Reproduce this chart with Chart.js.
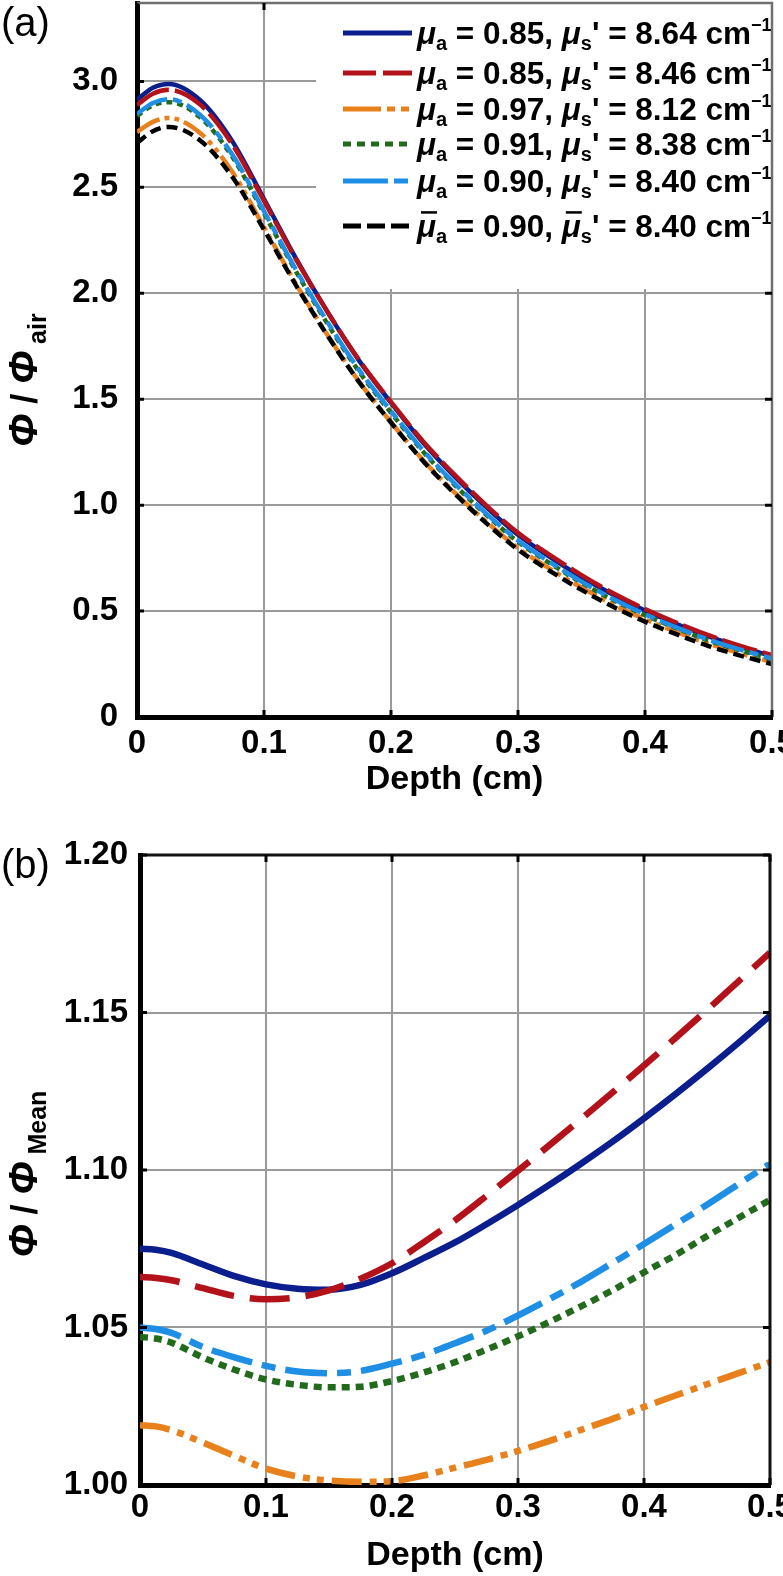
<!DOCTYPE html>
<html>
<head>
<meta charset="utf-8">
<script src="https://cdn.jsdelivr.net/npm/chart.js@4.4.1/dist/chart.umd.min.js"></script>
<style>
html, body { margin: 0; padding: 0; background: #fff; overflow: hidden; width: 783px; height: 1576px; }
canvas { display: block; }
</style>
</head>
<body>
<canvas id="chartA" width="783" height="800"></canvas>
<canvas id="chartB" width="783" height="776"></canvas>
<script>
// Depth (cm)
const depth = [0, 0.0125, 0.025, 0.05, 0.075, 0.1, 0.125, 0.15, 0.175, 0.2, 0.225, 0.25,
               0.275, 0.3, 0.325, 0.35, 0.375, 0.4, 0.425, 0.45, 0.475, 0.5];

// (a) fluence / fluence in air
const phiBlue   = [2.913, 2.970, 2.988, 2.910, 2.718, 2.445, 2.166, 1.912, 1.681, 1.483, 1.297, 1.136, 0.991, 0.860, 0.756, 0.661, 0.577, 0.503, 0.439, 0.380, 0.331, 0.287];
const phiRed    = [2.889, 2.942, 2.960, 2.889, 2.703, 2.436, 2.162, 1.912, 1.684, 1.487, 1.303, 1.144, 0.999, 0.869, 0.765, 0.670, 0.584, 0.510, 0.445, 0.386, 0.336, 0.292];
const phiOrange = [2.761, 2.809, 2.827, 2.755, 2.573, 2.312, 2.046, 1.803, 1.582, 1.391, 1.214, 1.060, 0.922, 0.798, 0.700, 0.611, 0.531, 0.461, 0.401, 0.346, 0.300, 0.260];
const phiGreen  = [2.837, 2.887, 2.902, 2.829, 2.644, 2.377, 2.105, 1.856, 1.629, 1.436, 1.254, 1.096, 0.954, 0.827, 0.726, 0.634, 0.552, 0.481, 0.418, 0.361, 0.315, 0.273];
const phiLBlue  = [2.846, 2.898, 2.916, 2.840, 2.655, 2.387, 2.113, 1.864, 1.637, 1.444, 1.260, 1.102, 0.960, 0.833, 0.731, 0.639, 0.557, 0.485, 0.422, 0.365, 0.318, 0.276];
const phiMean   = [2.710, 2.765, 2.785, 2.720, 2.550, 2.300, 2.040, 1.800, 1.580, 1.390, 1.210, 1.055, 0.915, 0.790, 0.690, 0.600, 0.520, 0.450, 0.390, 0.335, 0.290, 0.250];

// (b) fluence / mean fluence
const ratBlue   = [1.075, 1.0747, 1.0737, 1.070, 1.0663, 1.0637, 1.0623, 1.062, 1.0635, 1.0672, 1.072, 1.077, 1.0828, 1.0889, 1.0953, 1.102, 1.109, 1.1164, 1.1241, 1.1321, 1.1404, 1.149];
const ratRed    = [1.066, 1.0657, 1.065, 1.0625, 1.060, 1.059, 1.0596, 1.0618, 1.0655, 1.0704, 1.077, 1.084, 1.0918, 1.0998, 1.1079, 1.1162, 1.1246, 1.1332, 1.1419, 1.1508, 1.1599, 1.169];
const ratOrange = [1.019, 1.0186, 1.0174, 1.0135, 1.0092, 1.0052, 1.0027, 1.0014, 1.001, 1.0012, 1.003, 1.0055, 1.008, 1.0108, 1.014, 1.0175, 1.021, 1.0248, 1.0284, 1.032, 1.0355, 1.039];
const ratGreen  = [1.047, 1.0465, 1.0452, 1.0405, 1.0366, 1.0335, 1.0318, 1.031, 1.0312, 1.033, 1.0357, 1.039, 1.043, 1.0472, 1.0518, 1.0567, 1.0618, 1.0675, 1.073, 1.079, 1.0848, 1.0905];
const ratLBlue  = [1.050, 1.0495, 1.0483, 1.0438, 1.0405, 1.0378, 1.036, 1.0355, 1.0362, 1.0385, 1.0413, 1.045, 1.049, 1.0538, 1.059, 1.0645, 1.0705, 1.0765, 1.0827, 1.089, 1.0955, 1.102];

// legend values
const muA = ['0.85', '0.85', '0.97', '0.91', '0.90', '0.90'];
const muS = ['8.64', '8.46', '8.12', '8.38', '8.40', '8.40'];

// ticks
const xTickVals = [0, 0.1, 0.2, 0.3, 0.4, 0.5];
const xTickLabels = ['0', '0.1', '0.2', '0.3', '0.4', '0.5'];
const yTickValsA = [0, 0.5, 1.0, 1.5, 2.0, 2.5, 3.0];
const yTickLabelsA = ['0', '0.5', '1.0', '1.5', '2.0', '2.5', '3.0'];
const yTickValsB = [1.00, 1.05, 1.10, 1.15, 1.20];
const yTickLabelsB = ['1.00', '1.05', '1.10', '1.15', '1.20'];

const FONT = "'Liberation Sans', Arial, sans-serif";
const colors = ['#0b1e8e', '#b3121a', '#e8801c', '#226b1c', '#1e8fe4', '#000000'];
const dashA = [[], [36, 6], [26, 5, 5, 5, 5, 5], [6, 5], [34, 6, 9, 6], [11, 6]];
const dashB = [[], [40, 16], [30, 8, 7, 7, 7, 8], [8, 6], [42, 10, 14, 10]];
const dashLegend = [[], [33, 7], [38, 6, 8, 6, 8, 6], [8, 6], [45, 6, 14, 6], [18, 6]];

function pts(arr) {
    return depth.map((d, i) => ({ x: d, y: arr[i] }));
}

function makeSets(series, dashes, width) {
    return series.map((s, i) => ({
        data: pts(s),
        borderColor: colors[i],
        borderWidth: width,
        borderDash: dashes[i],
        order: series.length - i
    }));
}

// text with sub / superscripts; p = [text, size, style, dy, overbar]
function rich(ctx, x, y, parts) {
    for (const p of parts) {
        ctx.font = p[2] + ' ' + p[1] + 'px ' + FONT;
        ctx.fillText(p[0], x, y + p[3]);
        const w = ctx.measureText(p[0]).width;
        if (p[4]) {
            ctx.fillRect(x + 4, y - p[1] * 0.82, w - 3, 2.5);
        }
        x += w;
    }
    return x;
}
function richWidth(ctx, parts) {
    let w = 0;
    for (const p of parts) {
        ctx.font = p[2] + ' ' + p[1] + 'px ' + FONT;
        w += ctx.measureText(p[0]).width;
    }
    return w;
}

function yTitle(ctx, x, yc, sub) {
    const parts = [['Φ', 40, 'italic bold', 0], [' / ', 36, 'bold', 0], ['Φ', 40, 'italic bold', 0], [' ' + sub, 25, 'bold', 9]];
    ctx.save();
    ctx.translate(x, yc);
    ctx.rotate(-Math.PI / 2);
    ctx.fillStyle = '#000';
    ctx.textBaseline = 'alphabetic';
    rich(ctx, -richWidth(ctx, parts) / 2, 0, parts);
    ctx.restore();
}

function frame(chart, o) {
    const { ctx, chartArea: a, scales: { x, y } } = chart;
    ctx.save();
    ctx.strokeStyle = o.frameColor;
    ctx.lineWidth = o.frameWidth;
    ctx.beginPath();
    ctx.moveTo(a.left, a.top);
    ctx.lineTo(a.right, a.top);
    ctx.lineTo(a.right, a.bottom);
    ctx.stroke();
    ctx.strokeStyle = '#000';
    ctx.lineWidth = 3;
    ctx.beginPath();
    xTickVals.forEach(v => {
        const px = x.getPixelForValue(v);
        ctx.moveTo(px, a.bottom); ctx.lineTo(px, a.bottom - 7);
        if (px < o.topTickLimit) { ctx.moveTo(px, a.top); ctx.lineTo(px, a.top + 7); }
    });
    o.yTicks.forEach(v => {
        const py = y.getPixelForValue(v);
        ctx.moveTo(a.left, py); ctx.lineTo(a.left + 7, py);
        if (py > o.rightTickLimit) { ctx.moveTo(a.right, py); ctx.lineTo(a.right - 7, py); }
    });
    ctx.stroke();
    ctx.restore();
}

function options(p) {
    return {
        responsive: false,
        animation: false,
        devicePixelRatio: 1,
        layout: { padding: { top: p.top, right: p.right, left: 0, bottom: 0 } },
        plugins: { legend: { display: false }, tooltip: { enabled: false } },
        elements: {
            point: { radius: 0 },
            line: { cubicInterpolationMode: 'monotone', borderCapStyle: 'butt', fill: false }
        },
        scales: {
            x: {
                type: 'linear', min: 0, max: 0.5,
                afterBuildTicks: s => { s.ticks = xTickVals.map(v => ({ value: v })); },
                afterFit: s => { s.height = p.xHeight; s.paddingLeft = 0; s.paddingRight = 0; },
                ticks: {
                    callback: (v, i) => xTickLabels[i],
                    color: '#000', padding: p.xPad, maxRotation: 0, autoSkip: false,
                    font: { family: FONT, size: 33, weight: 'bold' }
                },
                grid: { color: '#9a9a9a', lineWidth: 2, drawTicks: false },
                border: { color: '#000', width: 5 },
                title: {
                    display: true, text: 'Depth (cm)', color: '#000',
                    font: { family: FONT, size: 34, weight: 'bold' },
                    padding: { top: p.titlePad, bottom: 0 }
                }
            },
            y: {
                type: 'linear', min: p.yMin, max: p.yMax,
                afterBuildTicks: s => { s.ticks = p.yTicks.map(v => ({ value: v })); },
                afterFit: s => { s.width = p.yWidth; s.paddingTop = 0; s.paddingBottom = 0; },
                ticks: {
                    callback: (v, i) => p.yLabels[i],
                    color: '#000', padding: p.yPad,
                    font: { family: FONT, size: 33, weight: 'bold' }
                },
                grid: { color: '#9a9a9a', lineWidth: 2, drawTicks: false },
                border: { color: '#000', width: 5 }
            }
        }
    };
}

// Panel (a)
const legendRows = [33, 73, 109, 144, 181, 226];
const panelA = {
    id: 'panelA',
    beforeDatasetsDraw(chart) {
        const ctx = chart.ctx;
        const a = chart.chartArea;
        ctx.save();
        ctx.fillStyle = '#fff';
        ctx.fillRect(316, a.top, a.right - 316, 289 - a.top);
        legendRows.forEach((ry, i) => {
            ctx.strokeStyle = colors[i];
            ctx.lineWidth = 5;
            ctx.lineCap = 'butt';
            ctx.setLineDash(dashLegend[i]);
            ctx.beginPath();
            ctx.moveTo(343, ry); ctx.lineTo(412, ry);
            ctx.stroke();
            ctx.setLineDash([]);
            const bar = i === 5;
            ctx.fillStyle = '#000';
            ctx.textBaseline = 'alphabetic';
            rich(ctx, 417, ry + 11, [
                ['μ', 31.5, 'italic bold', 0, bar], ['a', 20, 'bold', 6],
                [' = ' + muA[i] + ', ', 31.5, 'bold', 0],
                ['μ', 31.5, 'italic bold', 0, bar], ['s', 20, 'bold', 6],
                ["' = " + muS[i] + ' cm', 31.5, 'bold', 0], ['\u22121', 18, 'bold', -13]
            ]);
        });
        ctx.restore();
    },
    afterDraw(chart) {
        const ctx = chart.ctx;
        frame(chart, { frameColor: '#707070', frameWidth: 2.5, yTicks: yTickValsA, topTickLimit: 316, rightTickLimit: 289 });
        yTitle(ctx, 37, 380, 'air');
        ctx.save();
        ctx.fillStyle = '#000';
        ctx.font = '40px ' + FONT;
        ctx.textBaseline = 'alphabetic';
        ctx.fillText('(a)', 1, 36);
        ctx.restore();
    }
};

new Chart(document.getElementById('chartA'), {
    type: 'line',
    data: { datasets: makeSets([phiBlue, phiRed, phiOrange, phiGreen, phiLBlue, phiMean], dashA, 4.5) },
    options: options({
        top: 3, right: 11, xHeight: 83, yWidth: 137, xPad: 7, yPad: 19, titlePad: 0,
        yMin: 0, yMax: 3.37, yTicks: yTickValsA, yLabels: yTickLabelsA
    }),
    plugins: [panelA]
});

// Panel (b)
const panelB = {
    id: 'panelB',
    afterDraw(chart) {
        const ctx = chart.ctx;
        frame(chart, { frameColor: '#111', frameWidth: 3, yTicks: yTickValsB, topTickLimit: 9999, rightTickLimit: -1 });
        yTitle(ctx, 37, 374, 'Mean');
        ctx.save();
        ctx.fillStyle = '#000';
        ctx.font = '40px ' + FONT;
        ctx.textBaseline = 'alphabetic';
        ctx.fillText('(b)', 1, 78);
        ctx.restore();
    }
};

new Chart(document.getElementById('chartB'), {
    type: 'line',
    data: { datasets: makeSets([ratBlue, ratRed, ratOrange, ratGreen, ratLBlue], dashB, 6.5) },
    options: options({
        top: 55, right: 13, xHeight: 91, yWidth: 140, xPad: 3, yPad: 12, titlePad: 3,
        yMin: 1.0, yMax: 1.2, yTicks: yTickValsB, yLabels: yTickLabelsB
    }),
    plugins: [panelB]
});
</script>
</body>
</html>
